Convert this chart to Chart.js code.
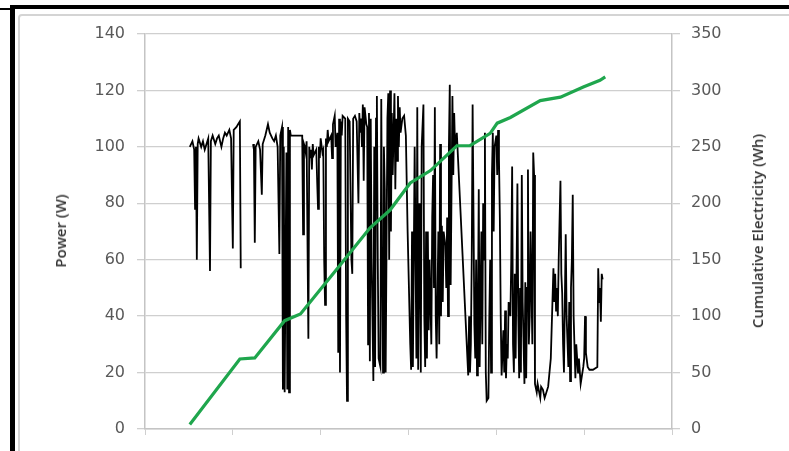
<!DOCTYPE html>
<html>
<head>
<meta charset="utf-8">
<title>Power and cumulative electricity</title>
<script src="https://cdn.jsdelivr.net/npm/chart.js@4.4.0/dist/chart.umd.min.js"></script>
<style>
  html, body { margin: 0; padding: 0; background: #ffffff; }
  #wrap { position: relative; width: 789px; height: 451px; overflow: hidden; }
  #blackleft { position: absolute; left: 10px; top: 5px; width: 5px; height: 446px; background: #000; }
  #blacktop { position: absolute; left: 10px; top: 5px; width: 779px; height: 4px; background: #000; }
  #blackcorner { position: absolute; left: 0; top: 8px; width: 10px; height: 2px; background: #000; }
  #grayframe { position: absolute; left: 18px; top: 14px; width: 790px; height: 460px; border: 2px solid #d4d4d4; border-radius: 4px; }
  canvas { position: absolute; left: 0; top: 0; }
  .ytitle { position: absolute; transform: translate(-50%, -50%) rotate(-90deg); white-space: nowrap;
    font-family: 'Open Sans', sans-serif; font-size: 15px; font-weight: 600; color: #333333; }
</style>
</head>
<body>
<div id="wrap">
  <div id="grayframe"></div>
  <div id="blackleft"></div>
  <div id="blacktop"></div>
  <div id="blackcorner"></div>
  <canvas id="powerchart" width="789" height="451"></canvas>
  <div class="ytitle" style="left:60px; top:231px;">Power (W)</div>
  <div class="ytitle" style="left:757px; top:231px;">Cumulative Electricity (Wh)</div>
</div>
<script>
'use strict';
//** Data */

// time axis (hours), 6 intervals
let timeticks = [0, 1, 2, 3, 4, 5, 6];

// power log: [hour, watts]  (null watts = gap in logging)
let powerlog = [
  [0.51, 100], [0.54, 102], [0.56, 99], [0.57, 78], [0.58, 100], [0.59, 60], [0.60, 101], [0.61, 103],
  [0.64, 100], [0.66, 102], [0.68, 99], [0.72, 103], [0.74, 56], [0.75, 102], [0.77, 104], [0.80, 101],
  [0.82, 103], [0.84, 104], [0.87, 100], [0.89, 103], [0.91, 105], [0.93, 104], [0.96, 106], [0.98, 103],
  [1.00, 64], [1.01, 106], [1.04, 107], [1.06, 108], [1.08, 109], [1.09, 57], [1.15, null],
  [1.23, 101], [1.24, 99], [1.25, 66], [1.26, 100], [1.29, 102], [1.31, 99], [1.33, 83], [1.34, 101],
  [1.37, 104], [1.40, 108], [1.42, 105], [1.45, 103], [1.47, 102], [1.49, 104], [1.51, 100], [1.53, 62],
  [1.54, 104], [1.56, 107], [1.57, 14], [1.58, 100], [1.59, 13], [1.61, 98], [1.62, 14], [1.63, 107],
  [1.64, 13], [1.65, 106], [1.66, 104], [1.79, 104],
  [1.80, 69], [1.81, 101], [1.82, 100], [1.83, 98], [1.84, 102], [1.86, 32], [1.87, 100], [1.88, 96],
  [1.89, 99], [1.90, 92], [1.91, 101], [1.92, 97], [1.95, 99], [1.96, 88], [1.97, 78], [1.98, 100],
  [1.99, 96], [2.00, 103], [2.02, 98], [2.03, 99], [2.04, 60], [2.05, 44], [2.06, 103], [2.07, 100],
  [2.08, 106], [2.09, 102], [2.12, 104], [2.13, 96], [2.14, 108], [2.16, 111], [2.17, 100], [2.19, 105],
  [2.20, 27], [2.21, 110], [2.22, 20], [2.23, 109], [2.24, 104], [2.25, 111], [2.28, 110], [2.29, 40],
  [2.30, 10], [2.31, 110], [2.33, 109], [2.35, 60], [2.36, 55], [2.37, 110], [2.39, 111], [2.41, 109],
  [2.43, 80], [2.44, 112], [2.45, 105], [2.46, 110], [2.47, 100], [2.48, 115], [2.49, 88], [2.50, 114],
  [2.52, 108], [2.53, 107], [2.54, 30], [2.55, 112], [2.56, 24], [2.57, 110], [2.58, 60], [2.60, 17],
  [2.61, 100], [2.62, 22], [2.63, 110], [2.64, 118], [2.65, 60], [2.66, 25], [2.68, 22], [2.69, 117],
  [2.70, 60], [2.71, 20], [2.72, 100], [2.73, 85], [2.74, 20], [2.76, 110], [2.77, 119], [2.78, 60],
  [2.79, 120], [2.80, 70], [2.81, 112], [2.82, 90], [2.84, 119], [2.85, 85], [2.86, 110], [2.87, 95],
  [2.88, 118], [2.89, 100], [2.90, 114], [2.91, 105], [2.93, 110], [2.95, 111], [2.97, 104], [2.99, 70],
  [3.02, 30], [3.03, 21], [3.04, 70], [3.05, 22], [3.06, 60], [3.07, 100], [3.09, 25], [3.10, 114],
  [3.11, 21], [3.12, 80], [3.13, 60], [3.14, 20], [3.15, 100], [3.17, 115], [3.18, 40], [3.19, 22],
  [3.20, 70], [3.21, 25], [3.22, 70], [3.23, 35], [3.24, 60], [3.26, 30], [3.27, 75], [3.28, 90],
  [3.29, 50], [3.30, 114], [3.31, 40], [3.32, 25], [3.34, 70], [3.35, 30], [3.36, 101], [3.37, 40],
  [3.38, 72], [3.39, 45], [3.40, 70], [3.42, 65], [3.43, 50], [3.44, 75], [3.45, 40], [3.46, 100],
  [3.47, 122], [3.48, 51], [3.50, 118], [3.51, 90], [3.52, 112], [3.53, 100], [3.55, 105], [3.68, 19],
  [3.69, 40], [3.70, 20], [3.71, 30], [3.72, 60], [3.73, 115], [3.75, 37], [3.76, 25], [3.77, 60],
  [3.78, 19], [3.79, 40], [3.80, 85], [3.81, 22], [3.83, 70], [3.84, 30], [3.85, 80], [3.86, 60],
  [3.87, 105], [3.88, 20], [3.89, 10], [3.91, 11], [3.92, 40], [3.93, 60], [3.94, 20], [3.95, 90],
  [3.96, 105], [3.97, 70], [3.98, 100], [4.00, 104], [4.01, 90], [4.02, 106], [4.03, 96], [4.04, 75],
  [4.05, 40], [4.06, 19], [4.08, 35], [4.09, 20], [4.10, 42], [4.11, 18], [4.12, 30], [4.13, 25],
  [4.14, 45], [4.16, 40], [4.17, 60], [4.18, 93], [4.19, 30], [4.20, 20], [4.21, 55], [4.22, 25],
  [4.24, 87], [4.25, 40], [4.26, 18], [4.27, 50], [4.28, 20], [4.29, 90], [4.30, 45], [4.32, 16],
  [4.33, 52], [4.34, 18], [4.35, 50], [4.36, 92], [4.37, 30], [4.38, 40], [4.39, 70], [4.41, 30],
  [4.42, 98], [4.43, 90], [4.44, 16], [4.46, 13], [4.47, 16], [4.50, 11], [4.51, 15], [4.53, 14],
  [4.55, 11], [4.59, 15], [4.62, 25], [4.65, 57], [4.66, 45], [4.67, 55], [4.68, 42], [4.69, 50],
  [4.70, 40], [4.71, 60], [4.73, 88], [4.74, 55], [4.75, 48], [4.76, 30], [4.77, 20], [4.78, 45],
  [4.79, 69], [4.80, 40], [4.82, 22], [4.83, 45], [4.84, 17], [4.85, 50], [4.86, 60], [4.87, 83],
  [4.88, 40], [4.90, 18], [4.91, 30], [4.93, 20], [4.94, 25], [4.96, 16], [4.99, 22], [5.00, 25],
  [5.01, 40], [5.02, 27], [5.04, 22], [5.06, 21], [5.10, 21], [5.15, 22], [5.16, 57], [5.17, 45],
  [5.18, 50], [5.19, 38], [5.20, 55], [5.21, 53]
];

// cumulative electricity, Wh
let cumhours = [0.51, 1.08, 1.25, 1.59, 1.77, 2.22, 2.56, 2.79, 3.02, 3.25, 3.55, 3.70, 3.93, 4.01, 4.16, 4.50, 4.73, 4.99, 5.18, 5.24];
let cumwh = [4, 62, 63, 96, 102, 145, 178, 194, 218, 229, 251, 251, 262, 271, 276, 291, 294, 303, 309, 312];

//** Build points */

let powerpoints = [];
for (let i = 0; i < powerlog.length; i++) {
  powerpoints.push({ x: powerlog[i][0], y: powerlog[i][1] });
}
let cumpoints = [];
for (let i = 0; i < cumhours.length; i++) {
  cumpoints.push({ x: cumhours[i], y: cumwh[i] });
}

//** Chart */

let gridgray = '#cfcfcf';
let tickfont = { family: 'DejaVu Sans', size: 16 };

let ctx = document.getElementById('powerchart');

let chartobj = {
  type: 'line',
  data: {
    datasets: [
      {
        label: 'Cumulative Electricity (Wh)',
        data: cumpoints,
        yAxisID: 'yright',
        borderColor: '#1fa64d',
        borderWidth: 3.2,
        pointRadius: 0,
        tension: 0,
        order: 0
      },
      {
        label: 'Power (W)',
        data: powerpoints,
        yAxisID: 'yleft',
        borderColor: '#000000',
        borderWidth: 1.8,
        pointRadius: 0,
        tension: 0,
        spanGaps: false,
        order: 1
      }
    ]
  },
  options: {
    responsive: false,
    animation: false,
    devicePixelRatio: 1,
    layout: { padding: { top: 34, left: 0, right: 0, bottom: 0 } },
    plugins: { legend: { display: false }, tooltip: { enabled: false } },
    scales: {
      x: {
        type: 'linear',
        min: 0,
        max: 6,
        afterBuildTicks: function (scale) {
          scale.ticks = timeticks.map(function (v) { return { value: v }; });
        },
        afterFit: function (scale) { scale.height = 22; },
        ticks: { display: false },
        grid: { drawOnChartArea: false, color: gridgray, tickLength: 6 },
        border: { color: '#c4c4c4', width: 1.5 }
      },
      yleft: {
        position: 'left',
        min: 0,
        max: 140,
        ticks: { stepSize: 20, font: tickfont, color: '#595959', padding: 12 },
        afterFit: function (scale) { scale.width = 145; },
        grid: { color: gridgray, lineWidth: 1.3, tickLength: 8 },
        border: { color: '#c4c4c4', width: 1.5 }
      },
      yright: {
        position: 'right',
        min: 0,
        max: 350,
        ticks: { stepSize: 50, font: tickfont, color: '#595959', padding: 11 },
        afterFit: function (scale) { scale.width = 117; },
        grid: { drawOnChartArea: false, color: gridgray, lineWidth: 1.3, tickLength: 8 },
        border: { color: '#c4c4c4', width: 1.5 }
      }
    }
  }
};

let powerchart = new Chart(ctx, chartobj);
</script>
</body>
</html>
